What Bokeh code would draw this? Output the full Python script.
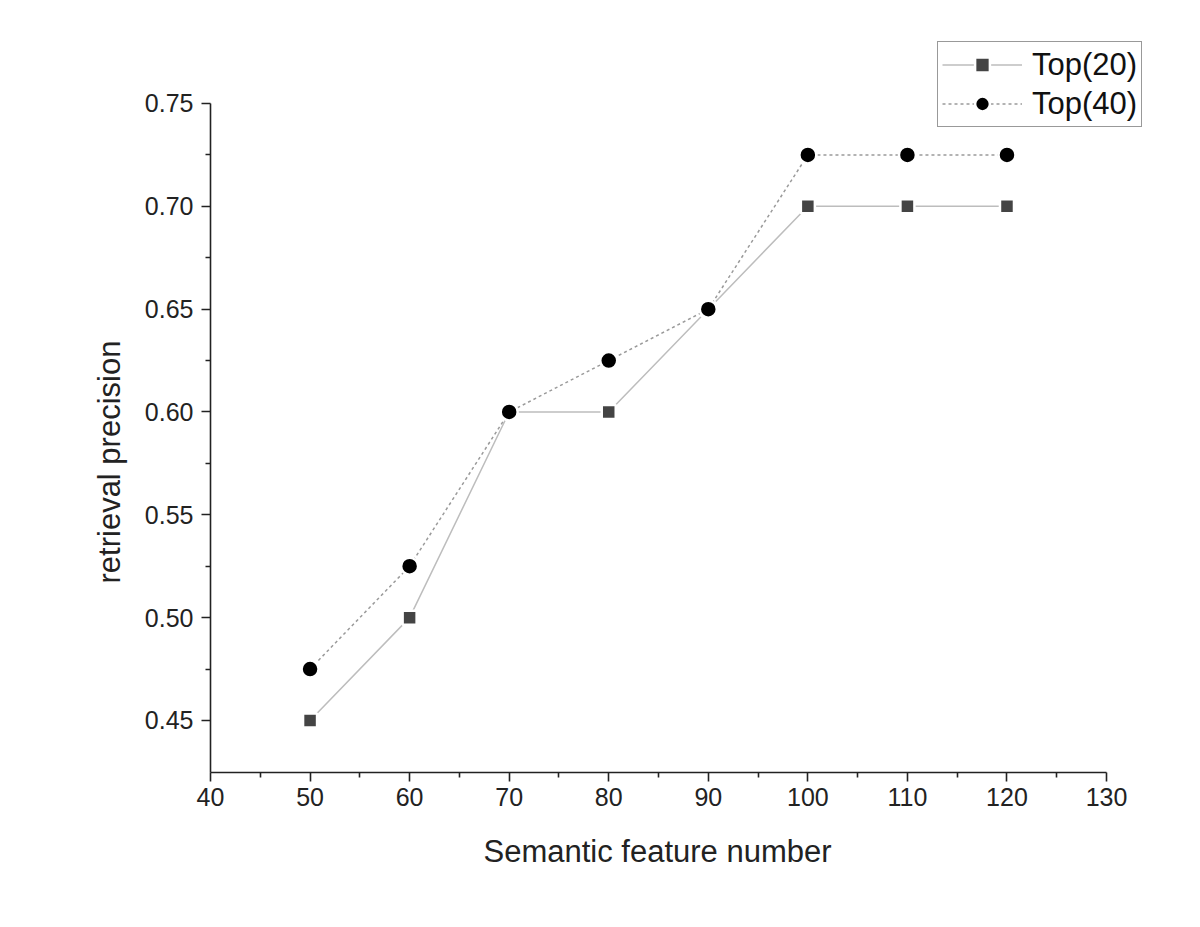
from bokeh.plotting import figure
from bokeh.models import Range1d, Legend, LegendItem, FixedTicker, CustomJSTickFormatter, Title
from bokeh.embed import file_html
from bokeh.resources import INLINE

features = [50, 60, 70, 80, 90, 100, 110, 120]
top20 = [0.45, 0.50, 0.60, 0.60, 0.65, 0.70, 0.70, 0.70]
top40 = [0.475, 0.525, 0.60, 0.625, 0.65, 0.725, 0.725, 0.725]
x_ticks = [40, 50, 60, 70, 80, 90, 100, 110, 120, 130]
x_minor = [45, 55, 65, 75, 85, 95, 105, 115, 125]
y_ticks = [0.45, 0.50, 0.55, 0.60, 0.65, 0.70, 0.75]
y_minor = [0.475, 0.525, 0.575, 0.625, 0.675, 0.725]
x_axis_span = (40, 130)
y_axis_span = (0.4247, 0.75)

FONT = "Liberation Sans"

# frame extended up/right so the legend (outside the axes) is not clipped
p = figure(width=1184, height=911, output_backend="svg", toolbar_location=None,
           x_range=Range1d(40, 135.42), y_range=Range1d(0.4247, 0.78306),
           min_border_left=210, min_border_right=24, min_border_top=35, min_border_bottom=139)
p.outline_line_color = None
p.xgrid.visible = False
p.ygrid.visible = False

p.xaxis.ticker = FixedTicker(ticks=x_ticks, minor_ticks=x_minor)
p.yaxis.ticker = FixedTicker(ticks=y_ticks, minor_ticks=y_minor)
p.yaxis.formatter = CustomJSTickFormatter(code="return tick.toFixed(2);")
p.xaxis.bounds = x_axis_span
p.yaxis.bounds = y_axis_span

for ax in (p.xaxis, p.yaxis):
    ax.axis_line_color = "#222222"
    ax.axis_line_width = 1.6
    ax.major_tick_line_color = "#222222"
    ax.minor_tick_line_color = "#222222"
    ax.major_tick_line_width = 1.6
    ax.minor_tick_line_width = 1.6
    ax.major_tick_in = 0
    ax.major_tick_out = 9
    ax.minor_tick_in = 0
    ax.minor_tick_out = 5
    ax.major_label_text_font = FONT
    ax.major_label_text_font_size = "25px"
    ax.major_label_text_color = "#222222"
p.xaxis.major_label_standoff = 6
p.yaxis.major_label_standoff = 8

xt = Title(text="Semantic feature number", align="left", offset=273,
           text_font=FONT, text_font_size="31px", text_font_style="normal",
           text_color="#222222", standoff=46)
p.add_layout(xt, "below")
yt = Title(text="retrieval precision", align="left", offset=189,
           text_font=FONT, text_font_size="31px", text_font_style="normal",
           text_color="#222222", standoff=29)
p.add_layout(yt, "left")

l20 = p.line(features, top20, line_color="#bdbdbd", line_width=1.5)
m20 = p.scatter(features, top20, marker="square", size=14, fill_color="#444444",
                line_color="white", line_width=2.5)
l40 = p.line(features, top40, line_color="#9a9a9a", line_width=1.5, line_dash="3 3")
m40 = p.scatter(features, top40, marker="circle", size=17, fill_color="#000000",
                line_color="white", line_width=2.5)

legend = Legend(items=[LegendItem(label="Top(20)", renderers=[l20, m20]),
                       LegendItem(label="Top(40)", renderers=[l40, m40])],
                location=(727, 645))
legend.label_text_font = FONT
legend.label_text_font_size = "31px"
legend.label_text_color = "#111111"
legend.border_line_color = "#333333"
legend.border_line_width = 1.5
legend.glyph_width = 80
legend.glyph_height = 37
legend.label_height = 37
legend.spacing = 2
legend.padding = 4
legend.margin = 0
legend.label_standoff = 10
legend.background_fill_alpha = 1
p.add_layout(legend, "center")

open("out.html", "w").write(file_html(p, INLINE))
